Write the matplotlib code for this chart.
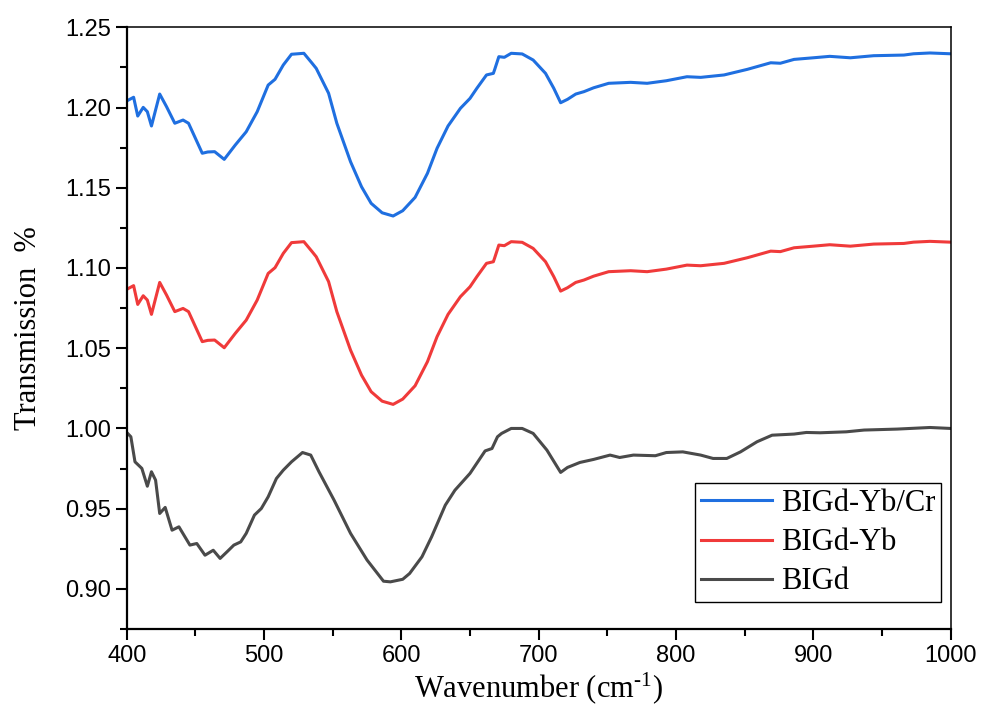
import numpy as np
import matplotlib
matplotlib.use('Agg')
import matplotlib.pyplot as plt
from matplotlib.ticker import MultipleLocator

# wavenumber (cm-1) shared by the two upper curves
x_top = [400, 405, 408, 412, 415, 418, 424, 429, 435, 441,
         445, 455, 459, 464, 471, 479, 487, 495, 503, 508,
         514, 520, 529, 535, 538, 547, 553, 563, 571, 578,
         586, 594, 601, 610, 619, 626, 634, 643, 650, 655,
         662, 667, 668, 671, 675, 680, 688, 696, 705, 711,
         716, 721, 727, 733, 740, 751, 767, 779, 793, 808,
         818, 835, 852, 869, 876, 886, 900, 912, 927, 944,
         966, 973, 985, 1000]

ybr = [1.2041, 1.2064, 1.1947, 1.2001, 1.1974, 1.1885, 1.2084, 1.2005, 1.1902, 1.1922,
       1.1902, 1.1715, 1.1723, 1.1725, 1.1677, 1.1766, 1.1849, 1.1974, 1.2140, 1.2176,
       1.2265, 1.2332, 1.2338, 1.2276, 1.2244, 1.2089, 1.1902, 1.1662, 1.1506, 1.1403,
       1.1344, 1.1324, 1.1357, 1.1440, 1.1590, 1.1746, 1.1885, 1.1995, 1.2057, 1.2120,
       1.2203, 1.2213, 1.2238, 1.2317, 1.2313, 1.2338, 1.2334, 1.2296, 1.2213, 1.2120,
       1.2030, 1.2051, 1.2084, 1.2099, 1.2123, 1.2151, 1.2157, 1.2151, 1.2167, 1.2192,
       1.2188, 1.2203, 1.2238, 1.2279, 1.2276, 1.2300, 1.2310, 1.2319, 1.2310, 1.2323,
       1.2327, 1.2335, 1.2340, 1.2335]

yb = [1.0867, 1.0890, 1.0773, 1.0827, 1.0800, 1.0711, 1.0910, 1.0831, 1.0728, 1.0748,
      1.0728, 1.0541, 1.0549, 1.0551, 1.0503, 1.0592, 1.0675, 1.0800, 1.0966, 1.1002,
      1.1091, 1.1158, 1.1164, 1.1102, 1.1070, 1.0915, 1.0728, 1.0488, 1.0332, 1.0229,
      1.0170, 1.0150, 1.0183, 1.0266, 1.0416, 1.0572, 1.0711, 1.0821, 1.0883, 1.0946,
      1.1029, 1.1039, 1.1064, 1.1143, 1.1139, 1.1164, 1.1160, 1.1122, 1.1039, 1.0946,
      1.0856, 1.0877, 1.0910, 1.0925, 1.0949, 1.0977, 1.0983, 1.0977, 1.0993, 1.1018,
      1.1014, 1.1029, 1.1064, 1.1105, 1.1102, 1.1126, 1.1136, 1.1145, 1.1136, 1.1149,
      1.1153, 1.1161, 1.1166, 1.1161]

x_bigd = [400, 403, 406, 411, 415, 418, 421, 424, 428, 433,
          438, 446, 451, 457, 463, 468, 473, 478, 483, 487,
          493, 498, 503, 509, 514, 520, 528, 534, 540, 551,
          563, 575, 587, 592, 601, 606, 615, 622, 632, 639,
          650, 661, 666, 670, 673, 680, 688, 696, 706, 716,
          721, 730, 740, 752, 759, 769, 785, 793, 805, 818,
          827, 837, 847, 859, 870, 886, 895, 905, 924, 937,
          961, 985, 1000]

y_bigd = [0.9975, 0.9948, 0.9792, 0.9751, 0.9640, 0.9730, 0.9678, 0.9470, 0.9508, 0.9366,
          0.9387, 0.9273, 0.9283, 0.9210, 0.9241, 0.9190, 0.9231, 0.9273, 0.9293, 0.9346,
          0.9460, 0.9501, 0.9574, 0.9688, 0.9740, 0.9792, 0.9850, 0.9834, 0.9730, 0.9553,
          0.9346, 0.9180, 0.9048, 0.9044, 0.9060, 0.9096, 0.9200, 0.9324, 0.9522, 0.9615,
          0.9720, 0.9860, 0.9875, 0.9948, 0.9969, 1.0000, 1.0000, 0.9969, 0.9865, 0.9726,
          0.9757, 0.9788, 0.9807, 0.9834, 0.9819, 0.9834, 0.9830, 0.9850, 0.9854, 0.9834,
          0.9813, 0.9813, 0.9854, 0.9917, 0.9958, 0.9965, 0.9975, 0.9973, 0.9979, 0.9990,
          0.9996, 1.0006, 1.0000]

plt.rcParams['font.family'] = 'Liberation Serif'
plt.rcParams['mathtext.default'] = 'regular'

fig = plt.figure(figsize=(9.81, 7.11), dpi=100)
ax = fig.add_axes([0.1292, 0.1153, 0.8398, 0.8463])

ax.plot(x_top, ybr, color='#1f6fe0', lw=2.2, label='BIGd-Yb/Cr', solid_joinstyle='round')
ax.plot(x_top, yb, color='#f03a3a', lw=2.2, label='BIGd-Yb', solid_joinstyle='round')
ax.plot(x_bigd, y_bigd, color='#4a4a4a', lw=2.2, label='BIGd', solid_joinstyle='round')

ax.set_xlim(400, 1000)
ax.set_ylim(0.875, 1.25)
ax.xaxis.set_major_locator(MultipleLocator(100))
ax.xaxis.set_minor_locator(MultipleLocator(50))
ax.yaxis.set_major_locator(MultipleLocator(0.05))
ax.yaxis.set_minor_locator(MultipleLocator(0.025))
ax.yaxis.set_major_formatter(matplotlib.ticker.FormatStrFormatter('%.2f'))

ax.tick_params(which='major', direction='out', length=8, width=1.5, top=False, right=False)
ax.tick_params(which='minor', direction='out', length=5, width=1.5, top=False, right=False)
for lab in ax.get_xticklabels() + ax.get_yticklabels():
    lab.set_fontfamily('Liberation Sans')
    lab.set_fontsize(17)
for s in ['left', 'bottom']:
    ax.spines[s].set_linewidth(1.6)
for s in ['top', 'right']:
    ax.spines[s].set_linewidth(1.1)

ax.set_xlabel('Wavenumber (cm$^{\u2010' + '1}$)', fontsize=22, labelpad=2)
ax.set_ylabel('Transmission  %', fontsize=22, labelpad=16)

leg = ax.legend(loc='upper left', bbox_to_anchor=(0.690, 0.2426), fontsize=22,
                frameon=True, fancybox=False, framealpha=1, edgecolor='black',
                handlelength=2.3, handletextpad=0.3, labelspacing=0.33,
                borderpad=0.2, borderaxespad=0)
leg.get_frame().set_linewidth(1.0)

plt.savefig('out.png', dpi=100)
